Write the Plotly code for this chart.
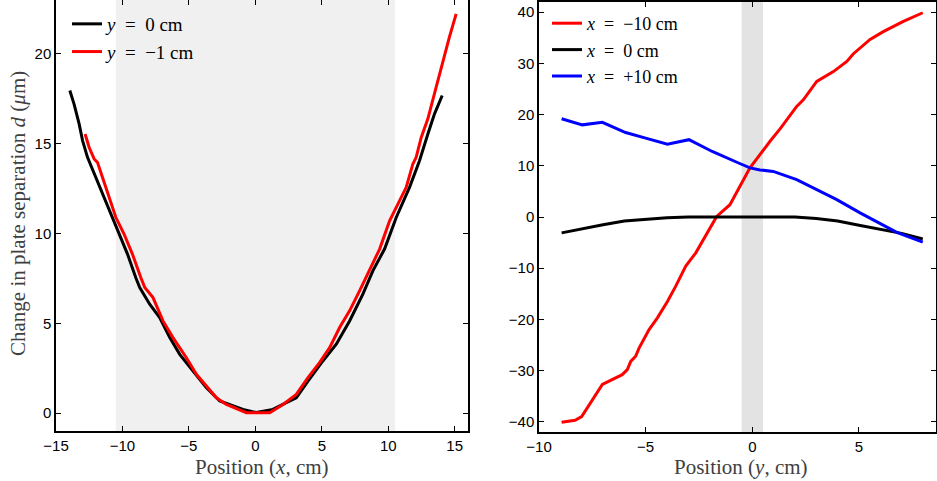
import plotly.graph_objects as go

# ---- Left panel: change in plate separation vs x ----
left_y0_x = [-13.96, -13.64, -13.26, -13.0, -12.63, -12.0, -11.5, -10.88, -10.25, -9.62, -9.0, -8.7,
             -7.95, -7.2, -6.44, -5.69, -4.69, -3.68, -2.68, -1.68, -0.93, 0.07, 1.32, 2.33, 3.08,
             3.96, 5.08, 6.09, 7.09, 8.09, 8.84, 9.72, 10.6, 11.6, 12.35, 12.98, 13.48, 14.06]
left_y0_d = [17.96, 17.2, 16.1, 15.17, 14.24, 13.12, 12.2, 11.08, 9.97, 8.85, 7.55, 6.99,
             6.06, 5.32, 4.2, 3.27, 2.34, 1.41, 0.67, 0.39, 0.2, 0.03, 0.2, 0.58, 0.85,
             1.78, 2.9, 3.83, 5.13, 6.62, 7.92, 9.13, 10.89, 12.57, 14.05, 15.54, 16.66, 17.68]

left_ym1_x = [-12.81, -12.51, -12.13, -11.88, -11.5, -10.88, -10.5, -9.88, -9.25, -8.62, -8.32, -7.7,
              -6.95, -6.2, -5.19, -4.44, -3.44, -2.93, -2.18, -0.68, 1.08, 2.08, 3.08, 3.96, 4.83,
              5.59, 6.34, 7.09, 7.84, 8.59, 9.35, 10.1, 10.85, 11.35, 11.85, 12.1, 12.48, 12.98,
              13.6, 14.23, 14.6, 15.11]
left_ym1_d = [15.54, 14.8, 14.15, 13.96, 13.12, 11.82, 10.9, 9.97, 8.85, 7.55, 6.99, 6.43,
              5.13, 4.2, 3.08, 2.16, 1.32, 0.85, 0.48, 0.02, 0.02, 0.48, 1.04, 1.97, 2.81,
              3.64, 4.76, 5.69, 6.8, 7.92, 9.13, 10.71, 11.82, 12.57, 13.87, 14.24, 15.35, 16.38,
              18.14, 20.0, 20.93, 22.23]

left_shade = [-10.5, 10.5]
left_xticks = [-15, -10, -5, 0, 5, 10, 15]
left_yticks = [0, 5, 10, 15, 20]

# ---- Right panel: change vs y ----
right_xm10_y = [-8.94, -8.31, -8.0, -7.03, -6.1, -5.86, -5.7, -5.47, -5.31, -4.84, -4.45, -3.98,
                -3.59, -3.12, -2.65, -2.03, -1.67, -1.05, -0.11, 0.83, 1.3, 2.08, 2.39, 3.02,
                3.8, 4.43, 4.74, 5.52, 6.14, 7.08, 7.99]
right_xm10_d = [-40.1, -39.7, -39.0, -32.7, -30.8, -29.8, -28.2, -27.2, -25.6, -22.0, -19.7, -16.5,
                -13.5, -9.6, -7.0, -2.5, 0.1, 2.4, 9.6, 14.8, 17.2, 21.6, 22.9, 26.5,
                28.4, 30.4, 31.9, 34.7, 36.2, 38.2, 39.9]

right_x0_y = [-8.94, -8, -7, -6, -5, -4, -3, -2, -1, 0, 1, 2, 3, 4, 5, 6, 7, 7.99]
right_x0_d = [-3.1, -2.3, -1.5, -0.8, -0.45, -0.15, 0, 0, 0, 0, 0.1, 0, -0.3, -0.8, -1.6, -2.4, -3.2, -4.3]

right_xp10_y = [-8.94, -7.97, -7.03, -5.94, -5.0, -3.98, -2.97, -1.88, -0.62, -0.11, 0.36, 0.98,
                2.08, 3.02, 3.96, 5.05, 5.99, 6.77, 7.99]
right_xp10_d = [19.2, 18.0, 18.5, 16.5, 15.4, 14.2, 15.1, 12.8, 10.5, 9.6, 9.2, 8.9,
                7.3, 5.3, 3.4, 0.8, -1.2, -3.0, -4.9]

right_shade = [-0.5, 0.5]
right_xticks = [-10, -5, 0, 5]
right_yticks = [-40, -30, -20, -10, 0, 10, 20, 30, 40]

W, H = 937, 481
SERIF = "Liberation Serif"
SANS = "Liberation Sans"
LW = 3
EQ = "\u2002=\u2002"

fig = go.Figure()

fig.add_trace(go.Scatter(x=left_y0_x, y=left_y0_d, mode="lines", line=dict(color="black", width=LW),
                         name=f"<i>y</i>{EQ}0 cm", xaxis="x", yaxis="y", legend="legend"))
fig.add_trace(go.Scatter(x=left_ym1_x, y=left_ym1_d, mode="lines", line=dict(color="#ff0000", width=LW),
                         name=f"<i>y</i>{EQ}\u22121 cm", xaxis="x", yaxis="y", legend="legend"))

fig.add_trace(go.Scatter(x=right_xm10_y, y=right_xm10_d, mode="lines", line=dict(color="#ff0000", width=LW),
                         name=f"<i>x</i>{EQ}\u221210 cm", xaxis="x2", yaxis="y2", legend="legend2"))
fig.add_trace(go.Scatter(x=right_x0_y, y=right_x0_d, mode="lines", line=dict(color="black", width=LW),
                         name=f"<i>x</i>{EQ}0 cm", xaxis="x2", yaxis="y2", legend="legend2"))
fig.add_trace(go.Scatter(x=right_xp10_y, y=right_xp10_d, mode="lines", line=dict(color="#0000ff", width=LW),
                         name=f"<i>x</i>{EQ}+10 cm", xaxis="x2", yaxis="y2", legend="legend2"))

fig.add_shape(type="rect", xref="x", yref="y domain", x0=left_shade[0], x1=left_shade[1], y0=0, y1=1,
              fillcolor="#f0f0f0", line_width=0, layer="below")
fig.add_shape(type="rect", xref="x2", yref="y2 domain", x0=right_shade[0], x1=right_shade[1], y0=0, y1=1,
              fillcolor="#e3e3e3", line_width=0, layer="below")

axis_common = dict(showgrid=False, zeroline=False, showline=True, linecolor="black", linewidth=1.5,
                   mirror="ticks", ticks="inside", ticklen=5, tickwidth=1, tickcolor="black",
                   tickfont=dict(family=SANS, size=15, color="black"), automargin=False)

fig.update_layout(
    width=W, height=H,
    margin=dict(l=0, r=0, t=0, b=0),
    paper_bgcolor="white", plot_bgcolor="white",
    showlegend=True,
    xaxis=dict(domain=[56 / W, 468 / W], range=[-15, 16], tickvals=left_xticks, anchor="y", **axis_common),
    yaxis=dict(domain=[1 - 431 / H, 1.0], range=[-1, 23], tickvals=left_yticks, anchor="x", **axis_common),
    xaxis2=dict(domain=[539 / W, 936 / W], range=[-10, 8.61], tickvals=right_xticks, anchor="y2", **axis_common),
    yaxis2=dict(domain=[1 - 432 / H, 1 - 2 / H], range=[-42, 42], tickvals=right_yticks, anchor="x2", **axis_common),
    legend=dict(x=67 / W, y=1 - 5 / H, xanchor="left", yanchor="top", bgcolor="rgba(0,0,0,0)",
                font=dict(family=SERIF, size=19, color="black"), borderwidth=0),
    legend2=dict(x=547 / W, y=1 - 5 / H, xanchor="left", yanchor="top", bgcolor="rgba(0,0,0,0)",
                 font=dict(family=SERIF, size=18, color="black"), borderwidth=0),
)

title_font = dict(family=SERIF, size=21, color="#404040")
fig.add_annotation(text="Position (<i>x</i>, cm)", xref="paper", yref="paper", x=262 / W, y=1 - 467 / H,
                   showarrow=False, font=title_font, xanchor="center", yanchor="middle", borderpad=0)
fig.add_annotation(text="Position (<i>y</i>, cm)", xref="paper", yref="paper", x=741 / W, y=1 - 467 / H,
                   showarrow=False, font=title_font, xanchor="center", yanchor="middle", borderpad=0)
fig.add_annotation(text="Change in plate separation <i>d</i> (<i>\u03bc</i>m)", xref="paper", yref="paper",
                   x=18 / W, y=1 - 214 / H, showarrow=False, font=title_font, textangle=-90,
                   xanchor="center", yanchor="middle", borderpad=0)

fig.write_html("out.html")
